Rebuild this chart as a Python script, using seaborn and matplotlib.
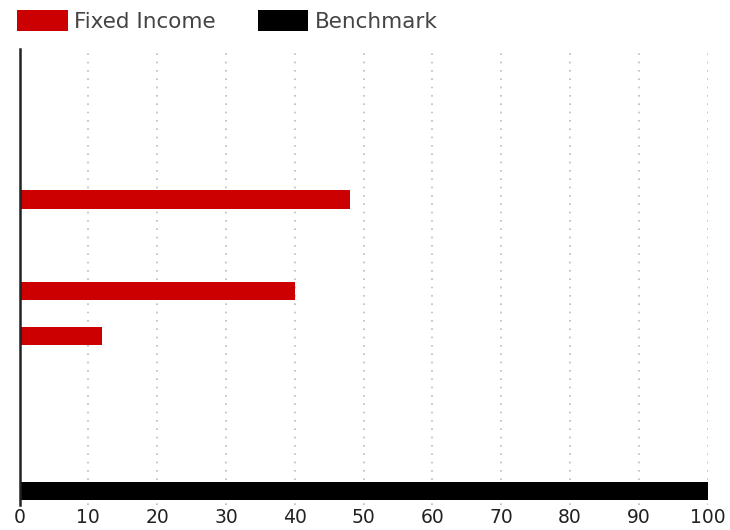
import numpy as np
import pandas as pd
import matplotlib
matplotlib.use("Agg")
import matplotlib.pyplot as plt
import seaborn as sns

# data
buckets = ["B1", "B2", "B3", "B4", "B5", "B6", "B7", "B8", "B9", "B10"]
fixed_income = [0, 0, 0, 48, 0, 40, 12, 0, 0, 0]
benchmark = [0, 0, 0, 0, 0, 0, 0, 0, 0, 100]
series_names = ["Fixed Income", "Benchmark"]
x_ticks = [0, 10, 20, 30, 40, 50, 60, 70, 80, 90, 100]

df = pd.DataFrame({
    "bucket": buckets * 2,
    "weight": fixed_income + benchmark,
    "series": [series_names[0]] * len(buckets) + [series_names[1]] * len(buckets),
})

sns.set_style("white")
plt.rcParams["font.family"] = ["DejaVu Sans"]

fig = plt.figure(figsize=(7.3, 5.3), dpi=100)
ax = fig.add_axes([19.5 / 730, 1 - 505 / 530, (707.7 - 19.5) / 730, (505 - 49) / 530])

sns.barplot(data=df, y="bucket", x="weight", hue="series", orient="h",
            palette={"Fixed Income": "#cc0000", "Benchmark": "#000000"},
            width=0.8, saturation=1, ax=ax, linewidth=0)

ax.set_xlim(0, 100)
ax.set_ylim(9.5, -0.5)
ax.set_xticks(x_ticks)
ax.set_xticklabels([str(t) for t in x_ticks], fontsize=13.5, color="#222222")
ax.set_yticks([])
ax.set_xlabel("")
ax.set_ylabel("")
ax.tick_params(axis="x", length=0, pad=2.5)

ax.grid(axis="x", linestyle=(0, (1, 4)), color="#bbbbbb", linewidth=1.2)
ax.set_axisbelow(True)
for s in ["top", "right", "bottom"]:
    ax.spines[s].set_visible(False)
ax.spines["left"].set_color("#222222")
ax.spines["left"].set_linewidth(1.8)

# legend on top, outside the axes
handles, labels = ax.get_legend_handles_labels()
ax.get_legend().remove()
fig.legend(handles, labels, loc="upper left", bbox_to_anchor=(17 / 730, 1 - 10 / 530),
           ncol=2, frameon=False, fontsize=15.5, labelcolor="#444444",
           handlelength=2.35, handleheight=1.1, handletextpad=0.3,
           columnspacing=1.95, borderpad=0, borderaxespad=0)

fig.savefig("out.png", dpi=100)
